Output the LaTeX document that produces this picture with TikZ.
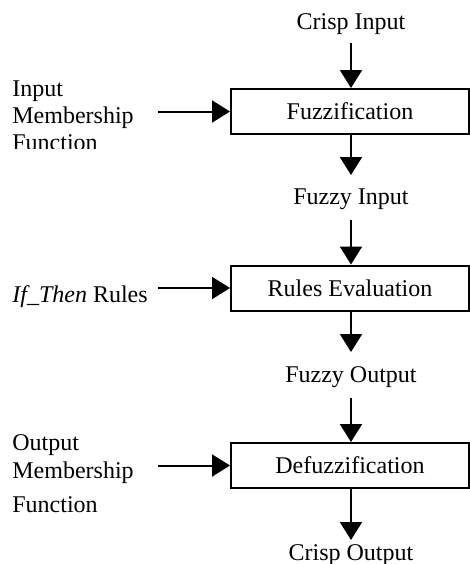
\documentclass[tikz,border=0pt]{standalone}
\usepackage{fontspec}
\setmainfont{Liberation Serif}
\usetikzlibrary{arrows.meta}
\begin{document}
\begin{tikzpicture}[x=0.5pt,y=-0.5pt,
  font=\fontsize{12pt}{14pt}\selectfont,
  stage/.style={draw,line width=1pt,minimum width=119pt,minimum height=22.5pt,inner sep=0pt},
  lbl/.style={inner sep=0pt,anchor=base},
  side/.style={inner sep=0pt,anchor=base west},
  flow/.style={line width=1pt,-{Triangle[length=9pt,width=11pt]}}]
\useasboundingbox (0,0) rectangle (470,564);
% main boxes
\node[stage] (b1) at (350,111.5) {Fuzzification};
\node[stage] (b2) at (350,288) {Rules Evaluation};
\node[stage,minimum height=22.5pt] (b3) at (350,465.5) {Defuzzification};
% centre labels
\node[lbl] (ci) at (351,29) {Crisp Input};
\node[lbl] (fi) at (351,204) {Fuzzy Input};
\node[lbl] (fo) at (351,382) {Fuzzy Output};
\node[lbl] (co) at (351,560) {Crisp Output};
% arrow end coordinates
\coordinate (a1) at (351,43);
\coordinate (a2) at (351,175);
\coordinate (a3) at (351,220);
\coordinate (a4) at (351,352);
\coordinate (a5) at (351,398);
\coordinate (a6) at (351,540);
\coordinate (l1) at (158,111.5);
\coordinate (l2) at (158,288);
\coordinate (l3) at (158,465.5);
% vertical arrows
\draw[flow] (a1) -- (a1 |- b1.north);
\draw[flow] (a2 |- b1.south) -- (a2);
\draw[flow] (a3) -- (a3 |- b2.north);
\draw[flow] (a4 |- b2.south) -- (a4);
\draw[flow] (a5) -- (a5 |- b3.north);
\draw[flow] (a6 |- b3.south) -- (a6);
% side arrows
\draw[flow] (l1) -- (b1.west);
\draw[flow] (l2) -- (b2.west);
\draw[flow] (l3) -- (b3.west);
% side labels
\node[side] (im1) at (12,96) {Input};
\node[side] (im2) at (12,123) {Membership};
\begin{scope}
\clip (0,60) rectangle (230,148);
\node[side] (im3) at (12,150) {Function};
\end{scope}
\node[side] (ru) at (12,302) {\textit{If\_Then} Rules};
\node[side] (om1) at (12,450) {Output};
\node[side] (om2) at (12,478) {Membership};
\node[side] (om3) at (12,512) {Function};
\end{tikzpicture}
\end{document}
